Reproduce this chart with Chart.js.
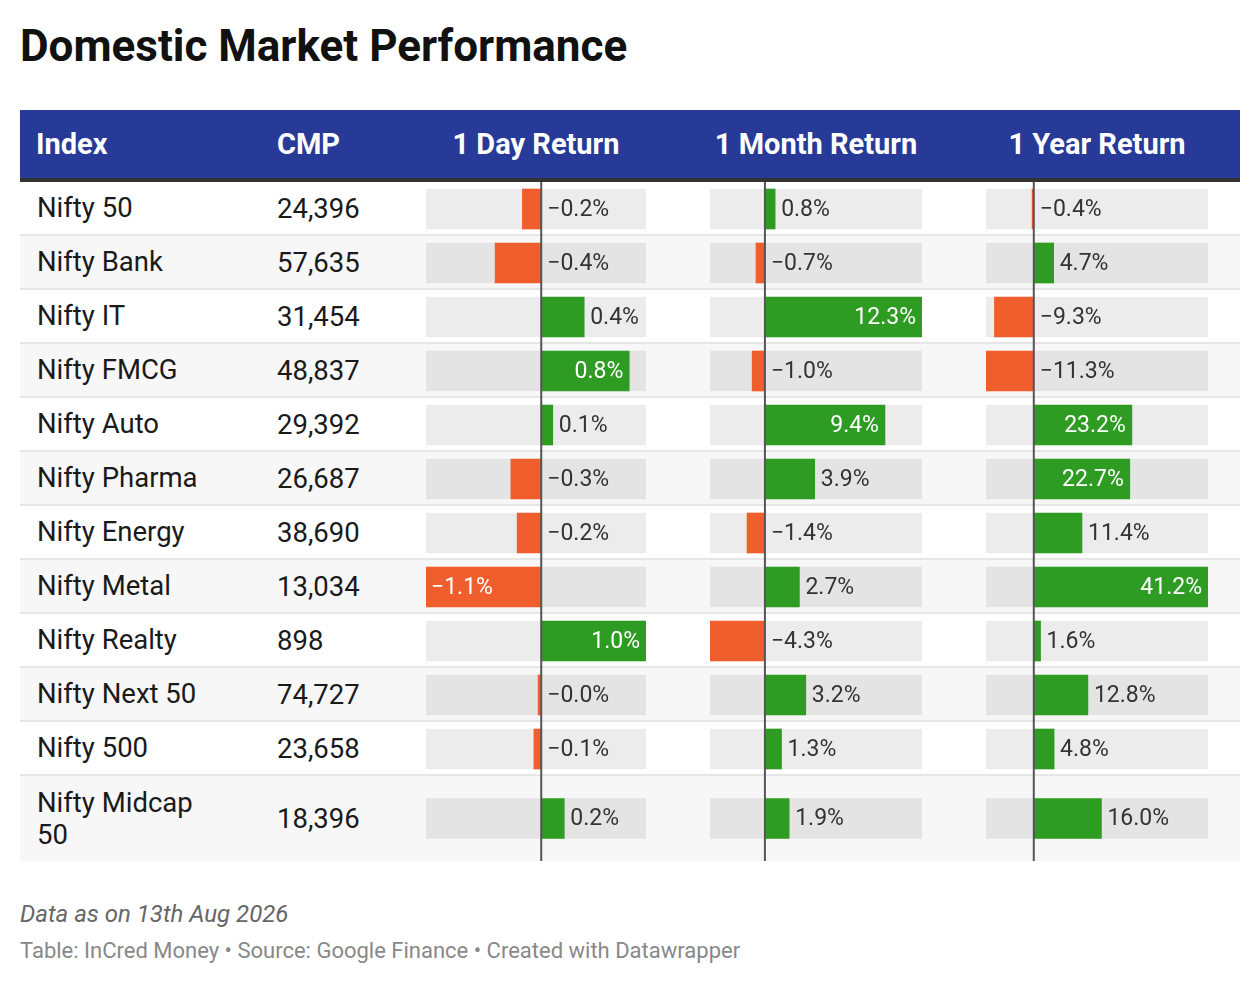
<!DOCTYPE html>
<html>
<head>
<meta charset="utf-8">
<script src="https://cdn.jsdelivr.net/npm/chart.js"></script>
<style>
  body { margin: 0; background: #fff; font-family: Roboto, "Noto Sans", sans-serif; }
  #page { position: relative; width: 1260px; height: 984px; overflow: hidden; }
  .title { position: absolute; left: 20px; top: 20px; font-size: 44px; font-weight: 700; color: #111; line-height: 52px; }
  .header { position: absolute; left: 20px; top: 110px; width: 1220px; height: 68px; background: #283a97; border-bottom: 4px solid #333; }
  .header div { position: absolute; top: 0; line-height: 68px; color: #fff; font-size: 29px; font-weight: 700; }
  .row { position: absolute; left: 20px; width: 1220px; }
  .row div.txt { position: absolute; top: 0; color: #1a1a1a; font-size: 27.5px; display: flex; align-items: center; height: 100%; }
  .row canvas { position: absolute; top: 0; }
  .note { position: absolute; left: 20px; top: 900px; font-size: 24px; font-style: italic; color: #666; }
  .source { position: absolute; left: 20px; top: 938px; font-size: 22px; color: #888; }
</style>
</head>
<body>
<div id="page">
  <div class="title">Domestic Market Performance</div>
  <div class="header" id="header"></div>
  <div id="rows"></div>
  <div class="note">Data as on 13th Aug 2026</div>
  <div class="source">Table: InCred Money • Source: Google Finance • Created with Datawrapper</div>
</div>
<script>
// Table data
const indices = ['Nifty 50', 'Nifty Bank', 'Nifty IT', 'Nifty FMCG', 'Nifty Auto', 'Nifty Pharma',
  'Nifty Energy', 'Nifty Metal', 'Nifty Realty', 'Nifty Next 50', 'Nifty 500', 'Nifty Midcap 50'];
const cmp = [24396, 57635, 31454, 48837, 29392, 26687, 38690, 13034, 898, 74727, 23658, 18396];
const dayReturn = [-0.18, -0.44, 0.41, 0.84, 0.11, -0.29, -0.23, -1.1, 1.0, -0.03, -0.07, 0.22];
const monthReturn = [0.8, -0.7, 12.3, -1.0, 9.4, 3.9, -1.4, 2.7, -4.3, 3.2, 1.3, 1.9];
const yearReturn = [-0.4, 4.7, -9.3, -11.3, 23.2, 22.7, 11.4, 41.2, 1.6, 12.8, 4.8, 16.0];
const columnTitles = ['Index', 'CMP', '1 Day Return', '1 Month Return', '1 Year Return'];

const POS = '#2e9b23', NEG = '#f05e2e', TRACK = 'rgba(0,0,0,0.075)';

// bar columns: left edge / width inside the row
const barCols = [
  { values: dayReturn, left: 406, width: 220 },
  { values: monthReturn, left: 690, width: 212 },
  { values: yearReturn, left: 966, width: 222 }
];

function fmt(v) {
  return (v < 0 ? '\u2212' : '') + Math.abs(v).toFixed(1) + '%';
}

// header
const header = document.getElementById('header');
const headPos = [{ left: 16 }, { left: 257 }];
columnTitles.forEach(function(t, i) {
  const d = document.createElement('div');
  d.textContent = t;
  if (i < 2) {
    d.style.left = headPos[i].left + 'px';
  } else {
    const c = barCols[i - 2];
    d.style.left = c.left + 'px';
    d.style.width = c.width + 'px';
    d.style.textAlign = 'center';
  }
  header.appendChild(d);
});

// zero line + value labels
const cellPlugin = {
  id: 'cellPlugin',
  afterDatasetsDraw: function(chart) {
    const ctx = chart.ctx;
    const xs = chart.scales.x;
    const v = chart.data.datasets[0].data[0];
    const meta = chart.getDatasetMeta(0).data[0];
    const x0 = xs.getPixelForValue(0);
    const xv = xs.getPixelForValue(v);
    ctx.save();
    ctx.strokeStyle = '#555';
    ctx.lineWidth = 2;
    ctx.beginPath();
    ctx.moveTo(x0, 0);
    ctx.lineTo(x0, chart.height);
    ctx.stroke();

    ctx.font = '23px Roboto';
    ctx.textBaseline = 'middle';
    const text = fmt(v);
    const tw = ctx.measureText(text).width;
    const len = Math.abs(xv - x0);
    const y = meta.y + 1;
    if (len >= tw + 14) {
      ctx.fillStyle = '#fff';
      if (v >= 0) { ctx.textAlign = 'right'; ctx.fillText(text, xv - 6, y); }
      else { ctx.textAlign = 'left'; ctx.fillText(text, xv + 5, y); }
    } else {
      ctx.fillStyle = '#333';
      ctx.textAlign = 'left';
      ctx.fillText(text, (v >= 0 ? xv : x0) + 6, y);
    }
    ctx.restore();
  }
};

function makeCell(canvas, v, min, max) {
  return new Chart(canvas, {
    type: 'bar',
    data: {
      labels: [''],
      datasets: [
        { data: [v], backgroundColor: v < 0 ? NEG : POS, barThickness: 40, grouped: false },
        { data: [[min, max]], backgroundColor: TRACK, barThickness: 40, grouped: false }
      ]
    },
    options: {
      indexAxis: 'y',
      responsive: false,
      animation: false,
      events: [],
      layout: { padding: 0 },
      plugins: { legend: { display: false }, tooltip: { enabled: false } },
      scales: {
        x: { display: false, min: min, max: max },
        y: { display: false }
      }
    },
    plugins: [cellPlugin]
  });
}

// rows
const rowsEl = document.getElementById('rows');
let rowTop = 182;
indices.forEach(function(name, i) {
  const last = i === indices.length - 1;
  const h = last ? 85 : 54;
  const row = document.createElement('div');
  row.className = 'row';
  row.style.top = rowTop + 'px';
  row.style.height = (last ? h : h - 2) + 'px';
  row.style.background = i % 2 ? '#f7f7f7' : '#fff';
  if (!last) row.style.borderBottom = '2px solid #e6e6e6';

  const n = document.createElement('div');
  n.className = 'txt';
  n.style.left = '17px';
  n.style.width = '178px';
  n.style.lineHeight = '32px';
  n.textContent = name;
  row.appendChild(n);

  const c = document.createElement('div');
  c.className = 'txt';
  c.style.left = '257px';
  c.textContent = cmp[i].toLocaleString('en-US');
  row.appendChild(c);

  rowsEl.appendChild(row);

  barCols.forEach(function(col) {
    const cv = document.createElement('canvas');
    cv.width = col.width;
    cv.height = h;
    cv.style.left = col.left + 'px';
    cv.style.width = col.width + 'px';
    cv.style.height = h + 'px';
    row.appendChild(cv);
    const min = Math.min.apply(null, col.values);
    const max = Math.max.apply(null, col.values);
    makeCell(cv, col.values[i], min, max);
  });
  rowTop += h;
});
</script>
</body>
</html>
